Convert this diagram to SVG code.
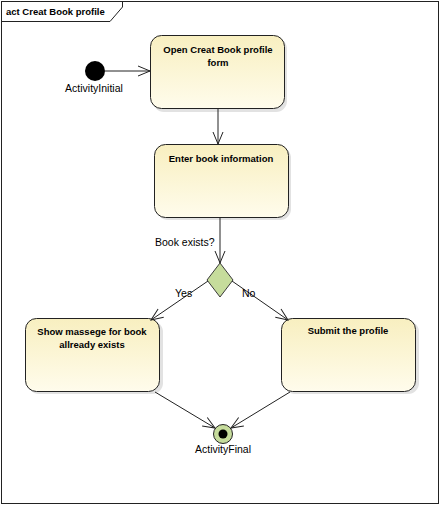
<svg xmlns="http://www.w3.org/2000/svg" width="441" height="505" viewBox="0 0 441 505">
<style>
.lbl{font-family:"Liberation Sans",Arial,sans-serif;font-size:10.5px;fill:#000}
.bt{font-family:"Liberation Sans",Arial,sans-serif;font-size:9.5px;font-weight:bold;fill:#000;text-anchor:middle}
.act{fill:url(#g);stroke:#222;stroke-width:1}
.sh{fill:#e2e2e2}
.edge{fill:none;stroke:#222;stroke-width:1;marker-end:url(#arr)}
</style>
<defs>
<linearGradient id="g" x1="0" y1="0" x2="0" y2="1">
<stop offset="0" stop-color="#f8efc0"/>
<stop offset="1" stop-color="#fffcec"/>
</linearGradient>
<marker id="arr" markerUnits="userSpaceOnUse" markerWidth="14" markerHeight="12" refX="13" refY="6" orient="auto">
<path d="M1,1 L13,6 L1,11" fill="none" stroke="#222" stroke-width="1"/>
</marker>
</defs>
<rect x="0" y="0" width="441" height="505" fill="#fff"/>
<g id="frame">
<rect x="1.5" y="1.5" width="437" height="502" fill="none" stroke="#222" stroke-width="1"/>
<path d="M1.5,21.5 L110,21.5 L122.5,7 L122.5,1.5" fill="none" stroke="#222" stroke-width="1"/>
<text class="lbl" x="6" y="15" style="font-weight:bold;font-size:9.5px">act Creat Book profile</text>
</g>
<g id="initial">
<circle cx="95" cy="71" r="10" fill="#000"/>
<text class="lbl" x="94" y="92" text-anchor="middle">ActivityInitial</text>
</g>
<g id="n1">
<rect class="sh" x="153" y="38" width="134" height="74" rx="11"/>
<rect class="act" x="150.5" y="35.5" width="134" height="73" rx="11"/>
<text class="bt" x="218" y="53">Open Creat Book profile</text>
<text class="bt" x="218" y="66">form</text>
</g>
<g id="n2">
<rect class="sh" x="157" y="147" width="134" height="73" rx="11"/>
<rect class="act" x="154.5" y="144.5" width="134" height="73" rx="11"/>
<text class="bt" x="221" y="162">Enter book information</text>
</g>
<g id="decision">
<path d="M220,263 L233,280 L220,297 L207,280 Z" fill="#c6dc9c" stroke="#3a3a3a" stroke-width="1"/>
</g>
<g id="n3">
<rect class="sh" x="28" y="321" width="135" height="73" rx="11"/>
<rect class="act" x="25.5" y="318.5" width="134" height="73" rx="11"/>
<text class="bt" x="92" y="335">Show massege for book</text>
<text class="bt" x="92" y="348">allready exists</text>
</g>
<g id="n4">
<rect class="sh" x="284" y="321" width="135" height="73" rx="11"/>
<rect class="act" x="281.5" y="318.5" width="134" height="73" rx="11"/>
<text class="bt" x="348" y="334">Submit the profile</text>
</g>
<g id="final">
<circle cx="223" cy="434" r="9.5" fill="#c6dc9c" stroke="#222" stroke-width="1"/>
<circle cx="223" cy="434" r="4.5" fill="#000"/>
<text class="lbl" x="223" y="453" text-anchor="middle">ActivityFinal</text>
</g>
<g id="connectors">
<line class="edge" x1="105" y1="71" x2="150" y2="71"/>
<line class="edge" x1="218" y1="109" x2="218" y2="144"/>
<line class="edge" x1="220" y1="218" x2="220" y2="263"/>
<line class="edge" x1="208" y1="281" x2="151" y2="320"/>
<line class="edge" x1="232" y1="281" x2="288" y2="320"/>
<line class="edge" x1="155" y1="392" x2="215" y2="428"/>
<line class="edge" x1="290" y1="392" x2="231" y2="428"/>
<text class="lbl" x="155" y="246">Book exists?</text>
<text class="lbl" x="175" y="297">Yes</text>
<text class="lbl" x="242" y="297">No</text>
</g>
</svg>
